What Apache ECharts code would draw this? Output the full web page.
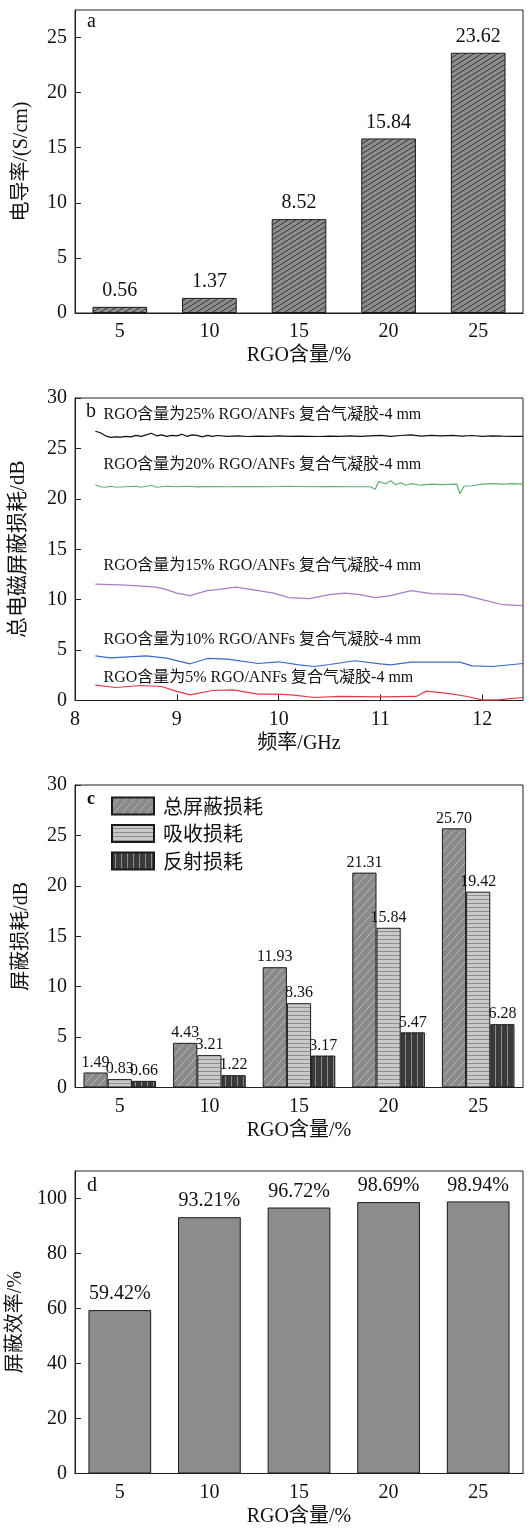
<!DOCTYPE html>
<html>
<head>
<meta charset="utf-8">
<script src="https://cdn.jsdelivr.net/npm/echarts@6/dist/echarts.min.js"></script>
<style>
  html, body { margin: 0; padding: 0; background: #fff; }
  #chart { width: 530px; height: 1529px; }
</style>
</head>
<body>
<div id="chart"></div>
<script>
  // 数据
  const rgoCats = ['5', '10', '15', '20', '25'];
  const conductivity = [0.56, 1.37, 8.52, 15.84, 23.62];
  const seTotal = [1.49, 4.43, 11.93, 21.31, 25.70];
  const seAbsorb = [0.83, 3.21, 8.36, 15.84, 19.42];
  const seReflect = [0.66, 1.22, 3.17, 5.47, 6.28];
  const efficiency = [59.42, 93.21, 96.72, 98.69, 98.94];

  // 总屏蔽损耗 vs 频率 (GHz, dB)
  const line25 = [[8.2,26.7],[8.25,26.55],[8.3,26.25],[8.35,26.1],[8.4,26.15],[8.45,26.12],[8.5,26.2],[8.55,26.15],[8.6,26.3],[8.65,26.2],[8.7,26.35],[8.75,26.5],[8.8,26.25],[8.85,26.35],[8.9,26.2],[8.95,26.3],[9.0,26.25],[9.05,26.4],[9.1,26.2],[9.15,26.35],[9.2,26.3],[9.25,26.15],[9.3,26.3],[9.35,26.2],[9.4,26.28],[9.5,26.2],[9.6,26.25],[9.7,26.18],[9.8,26.22],[9.9,26.2],[10.0,26.25],[10.1,26.2],[10.2,26.22],[10.3,26.2],[10.4,26.18],[10.5,26.22],[10.6,26.2],[10.7,26.25],[10.8,26.2],[10.9,26.25],[11.0,26.3],[11.1,26.2],[11.2,26.28],[11.3,26.35],[11.4,26.22],[11.5,26.3],[11.6,26.25],[11.7,26.3],[11.8,26.22],[11.9,26.28],[12.0,26.2],[12.1,26.25],[12.2,26.22],[12.3,26.2],[12.4,26.2]];
  const line20 = [[8.2,21.4],[8.25,21.2],[8.3,21.15],[8.35,21.25],[8.4,21.15],[8.5,21.2],[8.6,21.25],[8.65,21.15],[8.75,21.35],[8.8,21.15],[8.9,21.25],[9.0,21.2],[9.1,21.25],[9.2,21.18],[9.3,21.22],[9.5,21.2],[9.7,21.22],[9.9,21.2],[10.1,21.25],[10.3,21.2],[10.5,21.22],[10.7,21.2],[10.9,21.2],[10.95,20.95],[10.98,21.7],[11.05,21.5],[11.1,21.8],[11.15,21.4],[11.2,21.6],[11.25,21.35],[11.3,21.5],[11.4,21.35],[11.5,21.45],[11.6,21.4],[11.75,21.45],[11.78,20.5],[11.82,21.25],[11.9,21.3],[12.0,21.45],[12.1,21.5],[12.2,21.45],[12.3,21.5],[12.4,21.45]];
  const line15 = [[8.2,11.55],[8.5,11.45],[8.8,11.25],[8.9,11.0],[9.0,10.65],[9.13,10.4],[9.3,10.9],[9.4,11.0],[9.58,11.25],[9.8,10.9],[9.95,10.65],[10.1,10.2],[10.3,10.1],[10.5,10.5],[10.65,10.65],[10.8,10.5],[10.95,10.2],[11.1,10.4],[11.3,10.9],[11.5,10.6],[11.8,10.5],[12.0,10.0],[12.2,9.5],[12.4,9.4]];
  const line10 = [[8.2,4.43],[8.35,4.23],[8.7,4.43],[8.9,4.2],[9.13,3.64],[9.3,4.17],[9.5,4.1],[9.8,3.67],[10.0,3.84],[10.2,3.54],[10.35,3.37],[10.5,3.57],[10.75,3.94],[11.0,3.64],[11.1,3.54],[11.3,3.8],[11.78,3.8],[11.9,3.44],[12.1,3.37],[12.4,3.67]];
  const line5 = [[8.2,1.52],[8.4,1.29],[8.65,1.49],[8.85,1.39],[9.0,0.9],[9.13,0.56],[9.35,0.99],[9.55,1.06],[9.8,0.63],[10.0,0.63],[10.15,0.53],[10.35,0.3],[10.6,0.4],[11.0,0.36],[11.35,0.4],[11.45,0.93],[11.7,0.66],[11.85,0.4],[12.0,0.07],[12.15,0.07],[12.4,0.3]];
  const lineNames = ['RGO含量为25% RGO/ANFs 复合气凝胶-4 mm', 'RGO含量为20% RGO/ANFs 复合气凝胶-4 mm', 'RGO含量为15% RGO/ANFs 复合气凝胶-4 mm', 'RGO含量为10% RGO/ANFs 复合气凝胶-4 mm', 'RGO含量为5% RGO/ANFs 复合气凝胶-4 mm'];
  const lineLabelY = [28.3, 23.4, 13.4, 6.0, 2.3];

  const FONT = "'Liberation Serif', 'Noto Sans CJK SC', serif";
  const CJK = "'Noto Sans CJK SC', 'Liberation Serif', sans-serif";

  function pattern(bg, fg, w, h, draw) {
    const c = document.createElement('canvas');
    c.width = w; c.height = h;
    const g = c.getContext('2d');
    g.fillStyle = bg;
    g.fillRect(0, 0, w, h);
    g.strokeStyle = fg;
    g.lineWidth = 1;
    draw(g, w, h);
    return { image: c, repeat: 'repeat' };
  }
  function diag(g, w, h) {
    for (let k = -1; k <= 1; k++) {
      g.beginPath();
      g.moveTo(k * w, h);
      g.lineTo(k * w + w, 0);
      g.stroke();
    }
  }
  const hatchA = pattern('#8c8c8c', '#333', 8, 5, diag);
  const hatchTotal = pattern('#8a8a8a', '#b8b8b8', 8, 9, diag);
  const hatchAbs = pattern('#c9c9cc', '#8e8e92', 4, 4, (g, w) => {
    g.beginPath(); g.moveTo(0, 3.5); g.lineTo(w, 3.5); g.stroke();
  });
  const hatchRef = pattern('#3a3a3a', '#8a8a8a', 6, 4, (g, w, h) => {
    g.beginPath(); g.moveTo(3.5, 0); g.lineTo(3.5, h); g.stroke();
  });

  const grids = [
    { left: 75, top: 10, width: 448, height: 303 },
    { left: 75, top: 398, width: 448, height: 302.5 },
    { left: 75, top: 785, width: 448, height: 302.5 },
    { left: 75, top: 1171, width: 448, height: 302.5 }
  ].map(g => Object.assign(g, {
    show: true, borderColor: '#222', borderWidth: 1, backgroundColor: 'transparent',
    containLabel: false, outerBoundsMode: 'none'
  }));

  const axisLine = { show: true, lineStyle: { color: '#222', width: 1 } };
  const tickIn = { show: true, inside: true, length: 6, lineStyle: { color: '#222' } };
  const tickLabel = { color: '#111', fontSize: 20, fontFamily: FONT };
  const nameStyle = { color: '#111', fontSize: 20, fontFamily: FONT };

  function catAxis(gi) {
    return {
      type: 'category', gridIndex: gi, data: rgoCats,
      axisLine: axisLine, axisTick: Object.assign({ alignWithLabel: true }, tickIn),
      axisLabel: Object.assign({ margin: 9 }, tickLabel),
      name: 'RGO含量/%', nameLocation: 'middle', nameGap: 33, nameTextStyle: nameStyle
    };
  }
  function valAxis(gi, max, interval, name, gap, showMax, nameSize) {
    return {
      type: 'value', gridIndex: gi, min: 0, max: max, interval: interval,
      axisLine: axisLine, axisTick: tickIn, splitLine: { show: false },
      axisLabel: Object.assign({ margin: 8, showMaxLabel: showMax }, tickLabel),
      name: name, nameLocation: 'middle', nameGap: gap,
      nameTextStyle: Object.assign({}, nameStyle, { fontSize: nameSize || 20 })
    };
  }

  const lineColors = ['#111', '#62ad78', '#a57fc2', '#3a68c9', '#e23a44'];
  const lineData = [line25, line20, line15, line10, line5];
  const lineSeries = lineData.map((d, i) => ({
    type: 'line', xAxisIndex: 1, yAxisIndex: 1, data: d, showSymbol: false,
    lineStyle: { color: lineColors[i], width: 1.2 }, silent: true,
    markPoint: {
      symbol: 'circle', symbolSize: 0, silent: true,
      label: { show: true, position: 'right', distance: 0, color: '#111', fontSize: 16, fontFamily: FONT, formatter: lineNames[i] },
      data: [{ coord: [8.28, lineLabelY[i]] }]
    }
  }));

  const barBorder = { borderColor: '#1a1a1a', borderWidth: 1 };
  const smallLabel = { show: true, position: 'top', distance: 2, color: '#111', fontSize: 16, fontFamily: FONT, formatter: p => p.value.toFixed(2) };

  const chart = echarts.init(document.getElementById('chart'), null, { renderer: 'canvas' });
  chart.setOption({
    animation: false,
    backgroundColor: '#fff',
    grid: grids,
    xAxis: [
      catAxis(0),
      {
        type: 'value', gridIndex: 1, min: 8, max: 12.4, interval: 1,
        axisLine: axisLine, axisTick: tickIn, splitLine: { show: false },
        axisLabel: Object.assign({ margin: 9, showMaxLabel: false }, tickLabel),
        name: '频率/GHz', nameLocation: 'middle', nameGap: 33, nameTextStyle: nameStyle
      },
      catAxis(2),
      catAxis(3)
    ],
    yAxis: [
      valAxis(0, 27.5, 5, '电导率/(S/cm)', 43, false),
      valAxis(1, 30, 5, '总电磁屏蔽损耗/dB', 46, true, 21),
      valAxis(2, 30, 5, '屏蔽损耗/dB', 43, true),
      valAxis(3, 110, 20, '屏蔽效率/%', 45, false)
    ],
    legend: {
      show: true, orient: 'vertical', left: 111, top: 796, padding: 0,
      itemWidth: 42, itemHeight: 17, itemGap: 7.5, icon: 'rect',
      textStyle: { color: '#111', fontSize: 20, fontFamily: CJK, padding: [0, 0, 0, 4] },
      data: ['总屏蔽损耗', '吸收损耗', '反射损耗']
    },
    graphic: [
      { type: 'text', left: 87, top: 12, style: { text: 'a', font: '20px ' + FONT, fill: '#111' } },
      { type: 'text', left: 86, top: 402, style: { text: 'b', font: '20px ' + FONT, fill: '#111' } },
      { type: 'text', left: 87, top: 790, style: { text: 'c', font: 'bold 18px ' + FONT, fill: '#111' } },
      { type: 'text', left: 87, top: 1176, style: { text: 'd', font: '20px ' + FONT, fill: '#111' } }
    ],
    series: [
      {
        type: 'bar', xAxisIndex: 0, yAxisIndex: 0, data: conductivity, barWidth: '61%',
        itemStyle: Object.assign({ color: hatchA }, barBorder),
        label: { show: true, position: 'top', distance: 6, color: '#111', fontSize: 20, fontFamily: FONT, formatter: p => p.value.toFixed(2) }
      },
      ...lineSeries,
      {
        name: '总屏蔽损耗', type: 'bar', xAxisIndex: 2, yAxisIndex: 2, data: seTotal,
        barGap: '0%', barCategoryGap: '19%',
        itemStyle: Object.assign({ color: hatchTotal }, barBorder), label: smallLabel
      },
      {
        name: '吸收损耗', type: 'bar', xAxisIndex: 2, yAxisIndex: 2, data: seAbsorb,
        barGap: '0%', barCategoryGap: '19%',
        itemStyle: Object.assign({ color: hatchAbs }, barBorder), label: smallLabel
      },
      {
        name: '反射损耗', type: 'bar', xAxisIndex: 2, yAxisIndex: 2, data: seReflect,
        barGap: '0%', barCategoryGap: '19%',
        itemStyle: Object.assign({ color: hatchRef }, barBorder), label: smallLabel
      },
      {
        type: 'bar', xAxisIndex: 3, yAxisIndex: 3, data: efficiency, barWidth: '70%',
        itemStyle: Object.assign({ color: '#8c8c8c' }, barBorder),
        label: { show: true, position: 'top', distance: 6, color: '#111', fontSize: 20, fontFamily: FONT, formatter: p => p.value.toFixed(2) + '%' }
      }
    ]
  });
</script>
</body>
</html>
